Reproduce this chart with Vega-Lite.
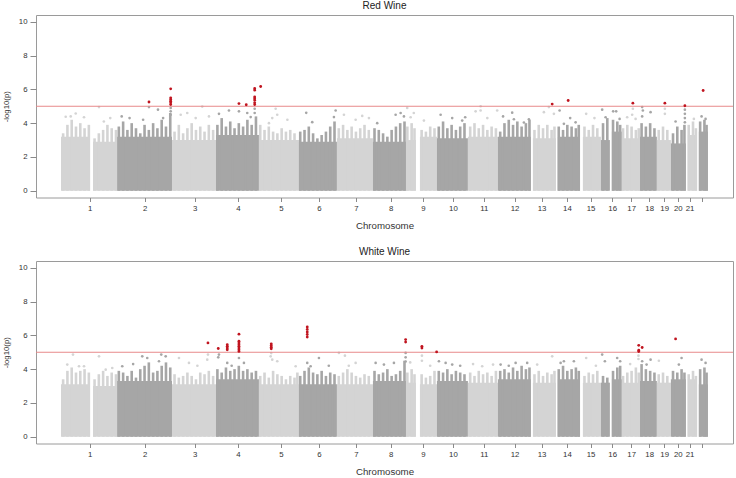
{
"$schema": "https://vega.github.io/schema/vega-lite/v6.json",
"padding": {"left": 1, "top": 0, "right": 1, "bottom": 0},
"config": {
 "font": "Liberation Sans",
 "view": {"stroke": "#9a9a9a", "strokeWidth": 1},
 "axis": {"grid": false, "domain": false, "tickColor": "#8a8a8a", "labelColor": "#333333", "titleColor": "#333333", "labelFontSize": 7.8, "titleFontWeight": "normal", "labelFlush": false, "labelOverlap": false, "tickCount": 40},
 "axisX": {"tickSize": 4, "labelPadding": 3, "titlePadding": 8, "titleFontSize": 9.7},
 "axisY": {"tickSize": 6, "labelPadding": 3, "titlePadding": 8, "titleFontSize": 7.8},
 "title": {"fontSize": 10, "fontWeight": "normal", "color": "#222222", "offset": 4},
 "concat": {"spacing": 15}
},
"datasets": {
 "blocks": [
  {"w":"Red","chr":1,"start":17.5,"end":37.8,"logp":3.2},
  {"w":"Red","chr":1,"start":39.9,"end":56.7,"logp":2.9},
  {"w":"Red","chr":2,"start":56.7,"end":95.2,"logp":3.2},
  {"w":"Red","chr":3,"start":95.2,"end":126.0,"logp":3.0},
  {"w":"Red","chr":4,"start":126.0,"end":156.1,"logp":3.3},
  {"w":"Red","chr":5,"start":156.1,"end":184.1,"logp":3.0},
  {"w":"Red","chr":6,"start":184.1,"end":210.7,"logp":2.9},
  {"w":"Red","chr":7,"start":210.7,"end":235.9,"logp":3.1},
  {"w":"Red","chr":8,"start":235.9,"end":259.0,"logp":2.9},
  {"w":"Red","chr":9,"start":259.0,"end":266.0,"logp":3.0},
  {"w":"Red","chr":9,"start":268.8,"end":280.7,"logp":3.2},
  {"w":"Red","chr":10,"start":280.7,"end":302.4,"logp":3.1},
  {"w":"Red","chr":11,"start":302.4,"end":323.4,"logp":3.2},
  {"w":"Red","chr":12,"start":323.4,"end":346.5,"logp":3.2},
  {"w":"Red","chr":13,"start":347.9,"end":364.0,"logp":3.1},
  {"w":"Red","chr":14,"start":365.4,"end":380.8,"logp":3.2},
  {"w":"Red","chr":15,"start":382.9,"end":395.5,"logp":3.2},
  {"w":"Red","chr":16,"start":395.5,"end":401.8,"logp":3.0},
  {"w":"Red","chr":16,"start":403.2,"end":410.2,"logp":3.5},
  {"w":"Red","chr":17,"start":410.2,"end":422.8,"logp":3.1},
  {"w":"Red","chr":18,"start":422.8,"end":434.7,"logp":3.2},
  {"w":"Red","chr":19,"start":434.7,"end":444.5,"logp":3.0},
  {"w":"Red","chr":20,"start":444.5,"end":455.0,"logp":2.8},
  {"w":"Red","chr":21,"start":456.4,"end":462.7,"logp":3.3},
  {"w":"Red","chr":22,"start":464.1,"end":470.4,"logp":3.5},
  {"w":"White","chr":1,"start":17.5,"end":37.8,"logp":3.1},
  {"w":"White","chr":1,"start":39.9,"end":56.7,"logp":3.0},
  {"w":"White","chr":2,"start":56.7,"end":95.2,"logp":3.3},
  {"w":"White","chr":3,"start":95.2,"end":126.0,"logp":3.1},
  {"w":"White","chr":4,"start":126.0,"end":156.1,"logp":3.4},
  {"w":"White","chr":5,"start":156.1,"end":184.1,"logp":3.1},
  {"w":"White","chr":6,"start":184.1,"end":210.7,"logp":3.1},
  {"w":"White","chr":7,"start":210.7,"end":235.9,"logp":3.1},
  {"w":"White","chr":8,"start":235.9,"end":259.0,"logp":3.3},
  {"w":"White","chr":9,"start":259.0,"end":266.0,"logp":3.2},
  {"w":"White","chr":9,"start":268.8,"end":280.7,"logp":3.1},
  {"w":"White","chr":10,"start":280.7,"end":302.4,"logp":3.3},
  {"w":"White","chr":11,"start":302.4,"end":323.4,"logp":3.2},
  {"w":"White","chr":12,"start":323.4,"end":346.5,"logp":3.4},
  {"w":"White","chr":13,"start":347.9,"end":364.0,"logp":3.2},
  {"w":"White","chr":14,"start":365.4,"end":380.8,"logp":3.4},
  {"w":"White","chr":15,"start":382.9,"end":395.5,"logp":3.2},
  {"w":"White","chr":16,"start":395.5,"end":401.8,"logp":3.2},
  {"w":"White","chr":16,"start":403.2,"end":410.2,"logp":3.4},
  {"w":"White","chr":17,"start":410.2,"end":422.8,"logp":3.2},
  {"w":"White","chr":18,"start":422.8,"end":434.7,"logp":3.3},
  {"w":"White","chr":19,"start":434.7,"end":444.5,"logp":3.2},
  {"w":"White","chr":20,"start":444.5,"end":455.0,"logp":3.4},
  {"w":"White","chr":21,"start":456.4,"end":462.7,"logp":3.4},
  {"w":"White","chr":22,"start":464.1,"end":470.4,"logp":3.1}
 ],
 "spikes": [
  {"w":"Red","chr":1,"pos":19,"logp":3.4},{"w":"Red","chr":1,"pos":22,"logp":3.9},{"w":"Red","chr":1,"pos":25,"logp":4.2},{"w":"Red","chr":1,"pos":28,"logp":3.8},{"w":"Red","chr":1,"pos":31,"logp":4.0},{"w":"Red","chr":1,"pos":34,"logp":3.7},{"w":"Red","chr":1,"pos":37,"logp":3.9},
  {"w":"Red","chr":1,"pos":41,"logp":3.1},{"w":"Red","chr":1,"pos":44,"logp":3.4},{"w":"Red","chr":1,"pos":47,"logp":3.6},{"w":"Red","chr":1,"pos":50,"logp":3.9},{"w":"Red","chr":1,"pos":53,"logp":3.7},{"w":"Red","chr":1,"pos":56,"logp":3.6},
  {"w":"Red","chr":2,"pos":58,"logp":3.8},{"w":"Red","chr":2,"pos":61,"logp":4.1},{"w":"Red","chr":2,"pos":64,"logp":3.6},{"w":"Red","chr":2,"pos":67,"logp":4.0},{"w":"Red","chr":2,"pos":70,"logp":3.7},{"w":"Red","chr":2,"pos":73,"logp":3.4},{"w":"Red","chr":2,"pos":76,"logp":3.9},{"w":"Red","chr":2,"pos":79,"logp":3.6},{"w":"Red","chr":2,"pos":82,"logp":4.0},{"w":"Red","chr":2,"pos":85,"logp":3.7},{"w":"Red","chr":2,"pos":88,"logp":4.2},{"w":"Red","chr":2,"pos":91,"logp":3.8},{"w":"Red","chr":2,"pos":94,"logp":4.6},
  {"w":"Red","chr":3,"pos":97,"logp":3.5},{"w":"Red","chr":3,"pos":100,"logp":3.9},{"w":"Red","chr":3,"pos":103,"logp":3.4},{"w":"Red","chr":3,"pos":106,"logp":3.7},{"w":"Red","chr":3,"pos":109,"logp":4.0},{"w":"Red","chr":3,"pos":112,"logp":3.6},{"w":"Red","chr":3,"pos":115,"logp":3.8},{"w":"Red","chr":3,"pos":118,"logp":3.5},{"w":"Red","chr":3,"pos":121,"logp":3.9},{"w":"Red","chr":3,"pos":124,"logp":3.6},
  {"w":"Red","chr":4,"pos":127,"logp":3.9},{"w":"Red","chr":4,"pos":130,"logp":4.3},{"w":"Red","chr":4,"pos":133,"logp":3.8},{"w":"Red","chr":4,"pos":136,"logp":4.1},{"w":"Red","chr":4,"pos":139,"logp":3.7},{"w":"Red","chr":4,"pos":142,"logp":4.0},{"w":"Red","chr":4,"pos":145,"logp":3.8},{"w":"Red","chr":4,"pos":148,"logp":4.2},{"w":"Red","chr":4,"pos":151,"logp":3.9},{"w":"Red","chr":4,"pos":154,"logp":4.4},
  {"w":"Red","chr":5,"pos":157,"logp":3.9},{"w":"Red","chr":5,"pos":160,"logp":3.6},{"w":"Red","chr":5,"pos":163,"logp":3.8},{"w":"Red","chr":5,"pos":166,"logp":3.5},{"w":"Red","chr":5,"pos":169,"logp":3.4},{"w":"Red","chr":5,"pos":172,"logp":3.7},{"w":"Red","chr":5,"pos":175,"logp":3.5},{"w":"Red","chr":5,"pos":178,"logp":3.6},{"w":"Red","chr":5,"pos":181,"logp":3.4},
  {"w":"Red","chr":6,"pos":185,"logp":3.5},{"w":"Red","chr":6,"pos":188,"logp":3.6},{"w":"Red","chr":6,"pos":191,"logp":3.8},{"w":"Red","chr":6,"pos":194,"logp":3.4},{"w":"Red","chr":6,"pos":197,"logp":3.1},{"w":"Red","chr":6,"pos":200,"logp":3.3},{"w":"Red","chr":6,"pos":203,"logp":3.5},{"w":"Red","chr":6,"pos":206,"logp":3.8},{"w":"Red","chr":6,"pos":209,"logp":4.1},
  {"w":"Red","chr":7,"pos":212,"logp":3.7},{"w":"Red","chr":7,"pos":215,"logp":3.9},{"w":"Red","chr":7,"pos":218,"logp":3.6},{"w":"Red","chr":7,"pos":221,"logp":3.8},{"w":"Red","chr":7,"pos":224,"logp":3.5},{"w":"Red","chr":7,"pos":227,"logp":3.7},{"w":"Red","chr":7,"pos":230,"logp":3.9},{"w":"Red","chr":7,"pos":233,"logp":3.6},
  {"w":"Red","chr":8,"pos":237,"logp":3.7},{"w":"Red","chr":8,"pos":240,"logp":3.6},{"w":"Red","chr":8,"pos":243,"logp":3.4},{"w":"Red","chr":8,"pos":246,"logp":3.2},{"w":"Red","chr":8,"pos":249,"logp":3.6},{"w":"Red","chr":8,"pos":252,"logp":3.8},{"w":"Red","chr":8,"pos":255,"logp":4.0},{"w":"Red","chr":8,"pos":258,"logp":4.1},
  {"w":"Red","chr":9,"pos":260,"logp":3.8},{"w":"Red","chr":9,"pos":263,"logp":4.0},{"w":"Red","chr":9,"pos":265,"logp":3.7},{"w":"Red","chr":9,"pos":270,"logp":3.6},{"w":"Red","chr":9,"pos":273,"logp":3.5},{"w":"Red","chr":9,"pos":276,"logp":3.8},{"w":"Red","chr":9,"pos":279,"logp":3.7},
  {"w":"Red","chr":10,"pos":282,"logp":3.8},{"w":"Red","chr":10,"pos":285,"logp":4.1},{"w":"Red","chr":10,"pos":288,"logp":3.7},{"w":"Red","chr":10,"pos":291,"logp":3.9},{"w":"Red","chr":10,"pos":294,"logp":3.6},{"w":"Red","chr":10,"pos":297,"logp":3.8},{"w":"Red","chr":10,"pos":300,"logp":4.0},
  {"w":"Red","chr":11,"pos":304,"logp":3.8},{"w":"Red","chr":11,"pos":307,"logp":4.0},{"w":"Red","chr":11,"pos":310,"logp":3.7},{"w":"Red","chr":11,"pos":313,"logp":3.9},{"w":"Red","chr":11,"pos":316,"logp":3.6},{"w":"Red","chr":11,"pos":319,"logp":3.8},{"w":"Red","chr":11,"pos":322,"logp":3.7},
  {"w":"Red","chr":12,"pos":325,"logp":3.5},{"w":"Red","chr":12,"pos":328,"logp":4.0},{"w":"Red","chr":12,"pos":331,"logp":4.2},{"w":"Red","chr":12,"pos":334,"logp":3.9},{"w":"Red","chr":12,"pos":337,"logp":4.1},{"w":"Red","chr":12,"pos":340,"logp":3.8},{"w":"Red","chr":12,"pos":343,"logp":4.0},{"w":"Red","chr":12,"pos":345.5,"logp":4.2},
  {"w":"Red","chr":13,"pos":349,"logp":3.6},{"w":"Red","chr":13,"pos":352,"logp":3.9},{"w":"Red","chr":13,"pos":355,"logp":3.7},{"w":"Red","chr":13,"pos":358,"logp":3.9},{"w":"Red","chr":13,"pos":361,"logp":3.6},{"w":"Red","chr":13,"pos":363,"logp":3.8},
  {"w":"Red","chr":14,"pos":366,"logp":3.8},{"w":"Red","chr":14,"pos":369,"logp":3.6},{"w":"Red","chr":14,"pos":372,"logp":3.9},{"w":"Red","chr":14,"pos":375,"logp":3.8},{"w":"Red","chr":14,"pos":378,"logp":3.7},{"w":"Red","chr":14,"pos":380,"logp":3.9},
  {"w":"Red","chr":15,"pos":384,"logp":3.8},{"w":"Red","chr":15,"pos":387,"logp":3.6},{"w":"Red","chr":15,"pos":390,"logp":3.9},{"w":"Red","chr":15,"pos":393,"logp":3.7},
  {"w":"Red","chr":16,"pos":397,"logp":4.0},{"w":"Red","chr":16,"pos":400,"logp":4.3},{"w":"Red","chr":16,"pos":404,"logp":4.2},{"w":"Red","chr":16,"pos":407,"logp":4.1},{"w":"Red","chr":16,"pos":409,"logp":3.9},
  {"w":"Red","chr":17,"pos":411,"logp":3.7},{"w":"Red","chr":17,"pos":414,"logp":3.9},{"w":"Red","chr":17,"pos":417,"logp":3.8},{"w":"Red","chr":17,"pos":420,"logp":3.6},{"w":"Red","chr":17,"pos":422,"logp":3.7},
  {"w":"Red","chr":18,"pos":424,"logp":4.0},{"w":"Red","chr":18,"pos":427,"logp":3.8},{"w":"Red","chr":18,"pos":430,"logp":4.0},{"w":"Red","chr":18,"pos":433,"logp":3.7},
  {"w":"Red","chr":19,"pos":436,"logp":3.6},{"w":"Red","chr":19,"pos":439,"logp":3.8},{"w":"Red","chr":19,"pos":442,"logp":3.6},
  {"w":"Red","chr":20,"pos":446,"logp":3.4},{"w":"Red","chr":20,"pos":449,"logp":3.8},{"w":"Red","chr":20,"pos":452,"logp":3.6},{"w":"Red","chr":20,"pos":454,"logp":3.9},
  {"w":"Red","chr":21,"pos":457,"logp":3.9},{"w":"Red","chr":21,"pos":460,"logp":4.1},{"w":"Red","chr":21,"pos":462,"logp":3.7},
  {"w":"Red","chr":22,"pos":465,"logp":4.1},{"w":"Red","chr":22,"pos":468,"logp":4.2},{"w":"Red","chr":22,"pos":469.5,"logp":3.9},
  {"w":"White","chr":1,"pos":19,"logp":3.4},{"w":"White","chr":1,"pos":22,"logp":3.9},{"w":"White","chr":1,"pos":25,"logp":4.1},{"w":"White","chr":1,"pos":28,"logp":3.8},{"w":"White","chr":1,"pos":31,"logp":3.9},{"w":"White","chr":1,"pos":34,"logp":4.0},{"w":"White","chr":1,"pos":37,"logp":3.8},
  {"w":"White","chr":1,"pos":41,"logp":3.4},{"w":"White","chr":1,"pos":44,"logp":3.7},{"w":"White","chr":1,"pos":47,"logp":3.9},{"w":"White","chr":1,"pos":50,"logp":3.6},{"w":"White","chr":1,"pos":53,"logp":3.8},{"w":"White","chr":1,"pos":56,"logp":3.7},
  {"w":"White","chr":2,"pos":58,"logp":3.9},{"w":"White","chr":2,"pos":61,"logp":3.8},{"w":"White","chr":2,"pos":64,"logp":3.6},{"w":"White","chr":2,"pos":67,"logp":3.9},{"w":"White","chr":2,"pos":70,"logp":3.5},{"w":"White","chr":2,"pos":73,"logp":4.0},{"w":"White","chr":2,"pos":76,"logp":4.2},{"w":"White","chr":2,"pos":79,"logp":4.4},{"w":"White","chr":2,"pos":82,"logp":3.8},{"w":"White","chr":2,"pos":85,"logp":3.9},{"w":"White","chr":2,"pos":88,"logp":4.2},{"w":"White","chr":2,"pos":91,"logp":4.4},{"w":"White","chr":2,"pos":94,"logp":4.1},
  {"w":"White","chr":3,"pos":97,"logp":3.7},{"w":"White","chr":3,"pos":100,"logp":3.5},{"w":"White","chr":3,"pos":103,"logp":3.6},{"w":"White","chr":3,"pos":106,"logp":3.8},{"w":"White","chr":3,"pos":109,"logp":3.6},{"w":"White","chr":3,"pos":112,"logp":3.4},{"w":"White","chr":3,"pos":115,"logp":3.8},{"w":"White","chr":3,"pos":118,"logp":3.7},{"w":"White","chr":3,"pos":121,"logp":3.9},{"w":"White","chr":3,"pos":124,"logp":3.6},
  {"w":"White","chr":4,"pos":127,"logp":4.0},{"w":"White","chr":4,"pos":130,"logp":3.8},{"w":"White","chr":4,"pos":133,"logp":4.1},{"w":"White","chr":4,"pos":136,"logp":3.9},{"w":"White","chr":4,"pos":139,"logp":4.0},{"w":"White","chr":4,"pos":142,"logp":4.2},{"w":"White","chr":4,"pos":145,"logp":3.9},{"w":"White","chr":4,"pos":148,"logp":4.0},{"w":"White","chr":4,"pos":151,"logp":3.8},{"w":"White","chr":4,"pos":154,"logp":3.9},
  {"w":"White","chr":5,"pos":157,"logp":3.6},{"w":"White","chr":5,"pos":160,"logp":3.8},{"w":"White","chr":5,"pos":163,"logp":3.5},{"w":"White","chr":5,"pos":166,"logp":3.9},{"w":"White","chr":5,"pos":169,"logp":3.7},{"w":"White","chr":5,"pos":172,"logp":3.6},{"w":"White","chr":5,"pos":175,"logp":3.4},{"w":"White","chr":5,"pos":178,"logp":3.6},{"w":"White","chr":5,"pos":181,"logp":3.5},{"w":"White","chr":5,"pos":183,"logp":3.8},
  {"w":"White","chr":6,"pos":185,"logp":3.6},{"w":"White","chr":6,"pos":188,"logp":3.9},{"w":"White","chr":6,"pos":191,"logp":4.1},{"w":"White","chr":6,"pos":194,"logp":3.8},{"w":"White","chr":6,"pos":197,"logp":3.7},{"w":"White","chr":6,"pos":200,"logp":3.9},{"w":"White","chr":6,"pos":203,"logp":3.6},{"w":"White","chr":6,"pos":206,"logp":3.8},{"w":"White","chr":6,"pos":209,"logp":3.7},
  {"w":"White","chr":7,"pos":212,"logp":3.6},{"w":"White","chr":7,"pos":215,"logp":3.8},{"w":"White","chr":7,"pos":218,"logp":4.0},{"w":"White","chr":7,"pos":221,"logp":3.8},{"w":"White","chr":7,"pos":224,"logp":3.6},{"w":"White","chr":7,"pos":227,"logp":3.5},{"w":"White","chr":7,"pos":230,"logp":3.7},{"w":"White","chr":7,"pos":233,"logp":3.6},
  {"w":"White","chr":8,"pos":237,"logp":3.9},{"w":"White","chr":8,"pos":240,"logp":3.7},{"w":"White","chr":8,"pos":243,"logp":3.8},{"w":"White","chr":8,"pos":246,"logp":4.0},{"w":"White","chr":8,"pos":249,"logp":3.6},{"w":"White","chr":8,"pos":252,"logp":3.7},{"w":"White","chr":8,"pos":255,"logp":3.9},{"w":"White","chr":8,"pos":258,"logp":4.5},
  {"w":"White","chr":9,"pos":260,"logp":3.8},{"w":"White","chr":9,"pos":263,"logp":4.0},{"w":"White","chr":9,"pos":265,"logp":3.7},{"w":"White","chr":9,"pos":270,"logp":3.7},{"w":"White","chr":9,"pos":273,"logp":3.5},{"w":"White","chr":9,"pos":276,"logp":3.6},{"w":"White","chr":9,"pos":279,"logp":3.9},
  {"w":"White","chr":10,"pos":282,"logp":3.9},{"w":"White","chr":10,"pos":285,"logp":3.8},{"w":"White","chr":10,"pos":288,"logp":4.0},{"w":"White","chr":10,"pos":291,"logp":3.7},{"w":"White","chr":10,"pos":294,"logp":3.9},{"w":"White","chr":10,"pos":297,"logp":3.8},{"w":"White","chr":10,"pos":300,"logp":3.7},
  {"w":"White","chr":11,"pos":304,"logp":3.8},{"w":"White","chr":11,"pos":307,"logp":3.6},{"w":"White","chr":11,"pos":310,"logp":3.9},{"w":"White","chr":11,"pos":313,"logp":3.7},{"w":"White","chr":11,"pos":316,"logp":3.8},{"w":"White","chr":11,"pos":319,"logp":3.6},{"w":"White","chr":11,"pos":322,"logp":3.9},
  {"w":"White","chr":12,"pos":325,"logp":3.9},{"w":"White","chr":12,"pos":328,"logp":4.0},{"w":"White","chr":12,"pos":331,"logp":3.8},{"w":"White","chr":12,"pos":334,"logp":4.1},{"w":"White","chr":12,"pos":337,"logp":3.9},{"w":"White","chr":12,"pos":340,"logp":4.2},{"w":"White","chr":12,"pos":343,"logp":4.0},{"w":"White","chr":12,"pos":345.5,"logp":4.1},
  {"w":"White","chr":13,"pos":349,"logp":3.7},{"w":"White","chr":13,"pos":352,"logp":3.9},{"w":"White","chr":13,"pos":355,"logp":3.6},{"w":"White","chr":13,"pos":358,"logp":3.8},{"w":"White","chr":13,"pos":361,"logp":3.7},{"w":"White","chr":13,"pos":363,"logp":3.9},
  {"w":"White","chr":14,"pos":366,"logp":4.0},{"w":"White","chr":14,"pos":369,"logp":4.2},{"w":"White","chr":14,"pos":372,"logp":3.9},{"w":"White","chr":14,"pos":375,"logp":4.0},{"w":"White","chr":14,"pos":378,"logp":4.1},{"w":"White","chr":14,"pos":380,"logp":3.9},
  {"w":"White","chr":15,"pos":384,"logp":3.6},{"w":"White","chr":15,"pos":387,"logp":3.8},{"w":"White","chr":15,"pos":390,"logp":3.7},{"w":"White","chr":15,"pos":393,"logp":3.9},
  {"w":"White","chr":16,"pos":397,"logp":3.6},{"w":"White","chr":16,"pos":400,"logp":3.5},{"w":"White","chr":16,"pos":404,"logp":3.9},{"w":"White","chr":16,"pos":407,"logp":4.1},{"w":"White","chr":16,"pos":409,"logp":4.2},
  {"w":"White","chr":17,"pos":411,"logp":3.6},{"w":"White","chr":17,"pos":414,"logp":3.8},{"w":"White","chr":17,"pos":417,"logp":3.9},{"w":"White","chr":17,"pos":420,"logp":4.1},{"w":"White","chr":17,"pos":422,"logp":3.8},
  {"w":"White","chr":18,"pos":424,"logp":4.3},{"w":"White","chr":18,"pos":427,"logp":4.0},{"w":"White","chr":18,"pos":430,"logp":3.9},{"w":"White","chr":18,"pos":433,"logp":3.8},
  {"w":"White","chr":19,"pos":436,"logp":3.7},{"w":"White","chr":19,"pos":439,"logp":3.8},{"w":"White","chr":19,"pos":442,"logp":3.6},
  {"w":"White","chr":20,"pos":446,"logp":3.9},{"w":"White","chr":20,"pos":449,"logp":3.8},{"w":"White","chr":20,"pos":452,"logp":4.0},{"w":"White","chr":20,"pos":454,"logp":3.8},
  {"w":"White","chr":21,"pos":457,"logp":3.7},{"w":"White","chr":21,"pos":460,"logp":3.9},{"w":"White","chr":21,"pos":462,"logp":3.6},
  {"w":"White","chr":22,"pos":465,"logp":4.0},{"w":"White","chr":22,"pos":468,"logp":4.1},{"w":"White","chr":22,"pos":469.5,"logp":3.8}
 ],
 "dots": [
  {"w":"Red","chr":1,"pos":24.3,"logp":4.4},{"w":"Red","chr":1,"pos":27.8,"logp":4.57},{"w":"Red","chr":1,"pos":33.6,"logp":4.35},{"w":"Red","chr":1,"pos":20.8,"logp":4.38},
  {"w":"Red","chr":1,"pos":44.1,"logp":4.95},{"w":"Red","chr":1,"pos":47.5,"logp":4.1},{"w":"Red","chr":1,"pos":52,"logp":4.3},
  {"w":"Red","chr":2,"pos":60,"logp":4.4},{"w":"Red","chr":2,"pos":65.5,"logp":4.3},{"w":"Red","chr":2,"pos":75,"logp":4.2},{"w":"Red","chr":2,"pos":79.1,"logp":4.95},{"w":"Red","chr":2,"pos":85.4,"logp":4.8},{"w":"Red","chr":2,"pos":89,"logp":4.3},{"w":"Red","chr":2,"pos":94.3,"logp":4.9},{"w":"Red","chr":2,"pos":94.3,"logp":4.7},{"w":"Red","chr":2,"pos":94.3,"logp":4.5},
  {"w":"Red","chr":3,"pos":101.3,"logp":4.5},{"w":"Red","chr":3,"pos":105.9,"logp":4.6},{"w":"Red","chr":3,"pos":116.4,"logp":4.98},{"w":"Red","chr":3,"pos":111.8,"logp":4.3},{"w":"Red","chr":3,"pos":121.1,"logp":4.4},
  {"w":"Red","chr":4,"pos":128.1,"logp":4.55},{"w":"Red","chr":4,"pos":135.1,"logp":4.75},{"w":"Red","chr":4,"pos":142.1,"logp":4.7},{"w":"Red","chr":4,"pos":147.9,"logp":4.6},{"w":"Red","chr":4,"pos":150.3,"logp":4.36},{"w":"Red","chr":4,"pos":153.1,"logp":4.85},{"w":"Red","chr":4,"pos":153.1,"logp":4.6},
  {"w":"Red","chr":5,"pos":167.8,"logp":4.85},{"w":"Red","chr":5,"pos":168.9,"logp":4.5},{"w":"Red","chr":5,"pos":165.4,"logp":4.3},{"w":"Red","chr":5,"pos":163.1,"logp":4.0},{"w":"Red","chr":5,"pos":176,"logp":4.2},
  {"w":"Red","chr":6,"pos":189.2,"logp":4.61},{"w":"Red","chr":6,"pos":193.4,"logp":4.06},{"w":"Red","chr":6,"pos":209.8,"logp":4.75},{"w":"Red","chr":6,"pos":208.6,"logp":4.36},
  {"w":"Red","chr":7,"pos":215.6,"logp":4.5},{"w":"Red","chr":7,"pos":228.4,"logp":4.43},{"w":"Red","chr":7,"pos":233.1,"logp":4.3},{"w":"Red","chr":7,"pos":223.8,"logp":4.2},
  {"w":"Red","chr":8,"pos":251.8,"logp":4.5},{"w":"Red","chr":8,"pos":255.3,"logp":4.6},{"w":"Red","chr":8,"pos":257.6,"logp":4.4},{"w":"Red","chr":8,"pos":238.9,"logp":4.0},
  {"w":"Red","chr":9,"pos":259.9,"logp":4.9},{"w":"Red","chr":9,"pos":262.3,"logp":4.35},{"w":"Red","chr":9,"pos":271.6,"logp":4.15},{"w":"Red","chr":9,"pos":264.5,"logp":4.6},
  {"w":"Red","chr":10,"pos":283.3,"logp":4.5},{"w":"Red","chr":10,"pos":291.4,"logp":4.3},{"w":"Red","chr":10,"pos":298.4,"logp":4.15},{"w":"Red","chr":10,"pos":300.5,"logp":4.35},
  {"w":"Red","chr":11,"pos":307.8,"logp":4.7},{"w":"Red","chr":11,"pos":311.3,"logp":5.0},{"w":"Red","chr":11,"pos":311.3,"logp":4.75},{"w":"Red","chr":11,"pos":322.9,"logp":4.75},{"w":"Red","chr":11,"pos":316,"logp":4.3},
  {"w":"Red","chr":12,"pos":333.4,"logp":4.62},{"w":"Red","chr":12,"pos":334.6,"logp":4.23},{"w":"Red","chr":12,"pos":341.6,"logp":4.04},{"w":"Red","chr":12,"pos":345.1,"logp":4.23},{"w":"Red","chr":12,"pos":327,"logp":4.4},
  {"w":"Red","chr":13,"pos":355.6,"logp":4.65},{"w":"Red","chr":13,"pos":359.1,"logp":4.95},{"w":"Red","chr":13,"pos":362.6,"logp":4.55},
  {"w":"Red","chr":14,"pos":366.6,"logp":4.75},{"w":"Red","chr":14,"pos":369.6,"logp":3.96},{"w":"Red","chr":14,"pos":377.8,"logp":4.05},{"w":"Red","chr":14,"pos":374,"logp":4.3},
  {"w":"Red","chr":15,"pos":385.2,"logp":4.55},{"w":"Red","chr":15,"pos":391,"logp":4.3},
  {"w":"Red","chr":16,"pos":396.4,"logp":4.8},{"w":"Red","chr":16,"pos":398.8,"logp":4.35},{"w":"Red","chr":16,"pos":404.1,"logp":4.7},{"w":"Red","chr":16,"pos":406.2,"logp":4.7},{"w":"Red","chr":16,"pos":408.6,"logp":4.25},
  {"w":"Red","chr":17,"pos":413.9,"logp":4.35},{"w":"Red","chr":17,"pos":417.4,"logp":4.5},{"w":"Red","chr":17,"pos":419.8,"logp":4.25},{"w":"Red","chr":17,"pos":417.9,"logp":4.85},
  {"w":"Red","chr":18,"pos":424.4,"logp":4.95},{"w":"Red","chr":18,"pos":424.9,"logp":4.75},{"w":"Red","chr":18,"pos":430.3,"logp":4.65},{"w":"Red","chr":18,"pos":424.4,"logp":4.4},
  {"w":"Red","chr":19,"pos":440.3,"logp":4.85},{"w":"Red","chr":19,"pos":440.3,"logp":4.55},
  {"w":"Red","chr":20,"pos":454.3,"logp":4.8},{"w":"Red","chr":20,"pos":454.3,"logp":4.55},{"w":"Red","chr":20,"pos":454.3,"logp":4.3},{"w":"Red","chr":20,"pos":454.3,"logp":4.05},{"w":"Red","chr":20,"pos":447.8,"logp":4.1},
  {"w":"Red","chr":21,"pos":460.6,"logp":4.25},
  {"w":"Red","chr":22,"pos":468.8,"logp":4.25},{"w":"Red","chr":22,"pos":466,"logp":4.4},
  {"w":"White","chr":1,"pos":25.9,"logp":4.86},{"w":"White","chr":1,"pos":21.9,"logp":4.27},{"w":"White","chr":1,"pos":30.1,"logp":4.17},{"w":"White","chr":1,"pos":33.6,"logp":4.17},{"w":"White","chr":1,"pos":44.1,"logp":4.76},{"w":"White","chr":1,"pos":48.8,"logp":3.97},{"w":"White","chr":1,"pos":53.4,"logp":4.07},
  {"w":"White","chr":2,"pos":74.4,"logp":4.76},{"w":"White","chr":2,"pos":77.9,"logp":4.66},{"w":"White","chr":2,"pos":87.7,"logp":4.86},{"w":"White","chr":2,"pos":90.8,"logp":4.76},{"w":"White","chr":2,"pos":86.1,"logp":4.47},{"w":"White","chr":2,"pos":60.4,"logp":4.17},{"w":"White","chr":2,"pos":68,"logp":4.3},
  {"w":"White","chr":3,"pos":100.1,"logp":4.66},{"w":"White","chr":3,"pos":107.1,"logp":4.37},{"w":"White","chr":3,"pos":119.9,"logp":4.56},{"w":"White","chr":3,"pos":120.4,"logp":4.86},{"w":"White","chr":3,"pos":113,"logp":4.2},
  {"w":"White","chr":4,"pos":128.1,"logp":4.86},{"w":"White","chr":4,"pos":133.9,"logp":4.37},{"w":"White","chr":4,"pos":142.1,"logp":4.66},{"w":"White","chr":4,"pos":145.6,"logp":4.37},{"w":"White","chr":4,"pos":137,"logp":4.2},{"w":"White","chr":4,"pos":127.6,"logp":4.7},
  {"w":"White","chr":5,"pos":164.3,"logp":4.76},{"w":"White","chr":5,"pos":165.4,"logp":4.56},{"w":"White","chr":5,"pos":168.9,"logp":4.47},{"w":"White","chr":5,"pos":181.8,"logp":4.17},{"w":"White","chr":5,"pos":164.7,"logp":4.95},
  {"w":"White","chr":6,"pos":189.9,"logp":4.37},{"w":"White","chr":6,"pos":198.1,"logp":4.66},{"w":"White","chr":6,"pos":192.3,"logp":4.17},{"w":"White","chr":6,"pos":205,"logp":4.2},
  {"w":"White","chr":7,"pos":212.1,"logp":4.96},{"w":"White","chr":7,"pos":216.3,"logp":4.8},{"w":"White","chr":7,"pos":223.8,"logp":4.37},{"w":"White","chr":7,"pos":219,"logp":4.2},
  {"w":"White","chr":8,"pos":237.8,"logp":4.37},{"w":"White","chr":8,"pos":243.6,"logp":4.27},{"w":"White","chr":8,"pos":250.6,"logp":4.37},{"w":"White","chr":8,"pos":258.8,"logp":4.96},{"w":"White","chr":8,"pos":258.8,"logp":4.7},{"w":"White","chr":8,"pos":258.8,"logp":4.45},
  {"w":"White","chr":9,"pos":270.2,"logp":4.8},{"w":"White","chr":9,"pos":270.2,"logp":4.5},{"w":"White","chr":9,"pos":262,"logp":4.4},{"w":"White","chr":9,"pos":276,"logp":4.2},
  {"w":"White","chr":10,"pos":282.1,"logp":4.47},{"w":"White","chr":10,"pos":286.8,"logp":4.37},{"w":"White","chr":10,"pos":291.4,"logp":4.27},{"w":"White","chr":10,"pos":297,"logp":4.2},
  {"w":"White","chr":11,"pos":312.4,"logp":4.17},{"w":"White","chr":11,"pos":320,"logp":4.27},{"w":"White","chr":11,"pos":306,"logp":4.3},
  {"w":"White","chr":12,"pos":325.3,"logp":4.27},{"w":"White","chr":12,"pos":335.8,"logp":4.37},{"w":"White","chr":12,"pos":343.9,"logp":4.37},{"w":"White","chr":12,"pos":331,"logp":4.2},
  {"w":"White","chr":13,"pos":350.9,"logp":4.27},{"w":"White","chr":13,"pos":361.4,"logp":4.76},
  {"w":"White","chr":14,"pos":367.3,"logp":4.37},{"w":"White","chr":14,"pos":369.6,"logp":4.47},{"w":"White","chr":14,"pos":376.6,"logp":4.47},
  {"w":"White","chr":15,"pos":385.2,"logp":4.66},{"w":"White","chr":15,"pos":392,"logp":4.2},
  {"w":"White","chr":16,"pos":396.4,"logp":4.86},{"w":"White","chr":16,"pos":398.3,"logp":4.47},{"w":"White","chr":16,"pos":406.9,"logp":4.66},{"w":"White","chr":16,"pos":409,"logp":4.47},
  {"w":"White","chr":17,"pos":421.8,"logp":4.8},{"w":"White","chr":17,"pos":421.8,"logp":4.6},{"w":"White","chr":17,"pos":416,"logp":4.3},
  {"w":"White","chr":18,"pos":424.4,"logp":4.47},{"w":"White","chr":18,"pos":430.3,"logp":4.56},{"w":"White","chr":18,"pos":427.5,"logp":4.27},
  {"w":"White","chr":19,"pos":436.1,"logp":4.5},
  {"w":"White","chr":20,"pos":450.1,"logp":4.27},{"w":"White","chr":20,"pos":452,"logp":4.66},
  {"w":"White","chr":22,"pos":466,"logp":4.56},{"w":"White","chr":22,"pos":468.8,"logp":4.37}
 ],
 "hits": [
  {"w":"Red","chr":2,"pos":79.1,"logp":5.25},
  {"w":"Red","chr":2,"pos":94.3,"logp":6.03},{"w":"Red","chr":2,"pos":94.3,"logp":5.5},{"w":"Red","chr":2,"pos":94.3,"logp":5.4},{"w":"Red","chr":2,"pos":94.3,"logp":5.3},{"w":"Red","chr":2,"pos":94.3,"logp":5.2},{"w":"Red","chr":2,"pos":94.3,"logp":5.1},
  {"w":"Red","chr":4,"pos":142.1,"logp":5.16},{"w":"Red","chr":4,"pos":147.2,"logp":5.09},
  {"w":"Red","chr":4,"pos":153.1,"logp":6.05},{"w":"Red","chr":4,"pos":153.1,"logp":5.95},{"w":"Red","chr":4,"pos":153.1,"logp":5.55},{"w":"Red","chr":4,"pos":153.1,"logp":5.45},{"w":"Red","chr":4,"pos":153.1,"logp":5.35},{"w":"Red","chr":4,"pos":153.1,"logp":5.2},{"w":"Red","chr":4,"pos":153.1,"logp":5.1},
  {"w":"Red","chr":5,"pos":157.3,"logp":6.17},
  {"w":"Red","chr":13,"pos":361.4,"logp":5.13},
  {"w":"Red","chr":14,"pos":372.6,"logp":5.34},
  {"w":"Red","chr":17,"pos":417.9,"logp":5.18},
  {"w":"Red","chr":19,"pos":440.3,"logp":5.18},
  {"w":"Red","chr":20,"pos":454.3,"logp":5.03},
  {"w":"Red","chr":22,"pos":467.1,"logp":5.93},
  {"w":"White","chr":3,"pos":120.4,"logp":5.55},
  {"w":"White","chr":4,"pos":127.6,"logp":5.22},
  {"w":"White","chr":4,"pos":133.9,"logp":5.45},{"w":"White","chr":4,"pos":133.9,"logp":5.35},{"w":"White","chr":4,"pos":133.9,"logp":5.25},{"w":"White","chr":4,"pos":133.9,"logp":5.15},
  {"w":"White","chr":4,"pos":142.1,"logp":6.07},{"w":"White","chr":4,"pos":142.1,"logp":5.65},{"w":"White","chr":4,"pos":142.1,"logp":5.55},{"w":"White","chr":4,"pos":142.1,"logp":5.45},{"w":"White","chr":4,"pos":142.1,"logp":5.35},{"w":"White","chr":4,"pos":142.1,"logp":5.25},{"w":"White","chr":4,"pos":142.1,"logp":5.15},{"w":"White","chr":4,"pos":142.1,"logp":5.05},
  {"w":"White","chr":5,"pos":164.7,"logp":5.5},{"w":"White","chr":5,"pos":164.7,"logp":5.4},{"w":"White","chr":5,"pos":164.7,"logp":5.3},{"w":"White","chr":5,"pos":164.7,"logp":5.2},
  {"w":"White","chr":6,"pos":189.9,"logp":6.5},{"w":"White","chr":6,"pos":189.9,"logp":6.35},{"w":"White","chr":6,"pos":189.9,"logp":6.2},{"w":"White","chr":6,"pos":189.9,"logp":6.05},{"w":"White","chr":6,"pos":189.9,"logp":5.9},
  {"w":"White","chr":8,"pos":258.8,"logp":5.75},{"w":"White","chr":8,"pos":258.8,"logp":5.6},
  {"w":"White","chr":9,"pos":270.2,"logp":5.35},{"w":"White","chr":9,"pos":270.2,"logp":5.25},
  {"w":"White","chr":9,"pos":280.5,"logp":5.02},
  {"w":"White","chr":17,"pos":422.0,"logp":5.41},{"w":"White","chr":17,"pos":422.0,"logp":5.12},{"w":"White","chr":17,"pos":422.0,"logp":5.04},
  {"w":"White","chr":18,"pos":424.4,"logp":5.28},
  {"w":"White","chr":20,"pos":447.8,"logp":5.79}
 ],
 "threshold": [{"logp": 5}]
},
"vconcat": [
 {
  "title": "Red Wine",
  "width": 697, "height": 182.5,
  "layer": [
   {"data": {"name": "blocks"}, "transform": [{"filter": "datum.w === 'Red'"}],
    "mark": {"type": "rect"},
    "encoding": {
     "x": {"field": "start", "type": "quantitative", "scale": {"domain": [0, 488], "nice": false, "zero": false},
      "axis": {"title": "Chromosome", "labelOverlap": false, "tickCount": 40, "values": [37.6,76.1,111.1,141.4,171.5,198.1,224,248.3,270.9,291.9,313.6,335.1,354,371.7,388.3,403.4,416.7,429.3,439.8,449.4,457.6,466],
       "labelExpr": "datum.value > 460 ? '' : '' + (indexof([37.6,76.1,111.1,141.4,171.5,198.1,224,248.3,270.9,291.9,313.6,335.1,354,371.7,388.3,403.4,416.7,429.3,439.8,449.4,457.6], datum.value) + 1)"}},
     "x2": {"field": "end"},
     "y": {"field": "logp", "type": "quantitative", "scale": {"domain": [-0.4, 10.4], "nice": false, "zero": false},
      "axis": {"title": "-log10(p)", "labelOverlap": false, "tickCount": 20, "format": "d", "values": [0, 2, 4, 6, 8, 10]}},
     "y2": {"datum": 0},
     "color": {"field": "chr", "type": "ordinal", "legend": null,
      "scale": {"domain": [1,2,3,4,5,6,7,8,9,10,11,12,13,14,15,16,17,18,19,20,21,22],
       "range": ["#d4d4d4","#a6a6a6","#d4d4d4","#a6a6a6","#d4d4d4","#a6a6a6","#d4d4d4","#a6a6a6","#d4d4d4","#a6a6a6","#d4d4d4","#a6a6a6","#d4d4d4","#a6a6a6","#d4d4d4","#a6a6a6","#d4d4d4","#a6a6a6","#d4d4d4","#a6a6a6","#d4d4d4","#a6a6a6"]}}
    }},
   {"data": {"name": "spikes"}, "transform": [{"filter": "datum.w === 'Red'"}],
    "mark": {"type": "rule", "strokeWidth": 2.6},
    "encoding": {"x": {"field": "pos", "type": "quantitative"}, "y": {"field": "logp", "type": "quantitative"}, "y2": {"datum": 0}, "color": {"field": "chr", "type": "ordinal"}}},
   {"data": {"name": "dots"}, "transform": [{"filter": "datum.w === 'Red'"}],
    "mark": {"type": "circle", "size": 7, "opacity": 1},
    "encoding": {"x": {"field": "pos", "type": "quantitative"}, "y": {"field": "logp", "type": "quantitative"}, "color": {"field": "chr", "type": "ordinal"}}},
   {"data": {"name": "threshold"},
    "mark": {"type": "rule", "color": "#e8898b", "strokeWidth": 1},
    "encoding": {"y": {"field": "logp", "type": "quantitative"}}},
   {"data": {"name": "hits"}, "transform": [{"filter": "datum.w === 'Red'"}],
    "mark": {"type": "circle", "size": 8, "opacity": 1, "color": "#c0141f"},
    "encoding": {"x": {"field": "pos", "type": "quantitative"}, "y": {"field": "logp", "type": "quantitative"}}}
  ]
 },
 {
  "title": "White Wine",
  "width": 697, "height": 182.5,
  "layer": [
   {"data": {"name": "blocks"}, "transform": [{"filter": "datum.w === 'White'"}],
    "mark": {"type": "rect"},
    "encoding": {
     "x": {"field": "start", "type": "quantitative", "scale": {"domain": [0, 488], "nice": false, "zero": false},
      "axis": {"title": "Chromosome", "labelOverlap": false, "tickCount": 40, "values": [37.6,76.1,111.1,141.4,171.5,198.1,224,248.3,270.9,291.9,313.6,335.1,354,371.7,388.3,403.4,416.7,429.3,439.8,449.4,457.6,466],
       "labelExpr": "datum.value > 460 ? '' : '' + (indexof([37.6,76.1,111.1,141.4,171.5,198.1,224,248.3,270.9,291.9,313.6,335.1,354,371.7,388.3,403.4,416.7,429.3,439.8,449.4,457.6], datum.value) + 1)"}},
     "x2": {"field": "end"},
     "y": {"field": "logp", "type": "quantitative", "scale": {"domain": [-0.4, 10.4], "nice": false, "zero": false},
      "axis": {"title": "-log10(p)", "labelOverlap": false, "tickCount": 20, "format": "d", "values": [0, 2, 4, 6, 8, 10]}},
     "y2": {"datum": 0},
     "color": {"field": "chr", "type": "ordinal", "legend": null,
      "scale": {"domain": [1,2,3,4,5,6,7,8,9,10,11,12,13,14,15,16,17,18,19,20,21,22],
       "range": ["#d4d4d4","#a6a6a6","#d4d4d4","#a6a6a6","#d4d4d4","#a6a6a6","#d4d4d4","#a6a6a6","#d4d4d4","#a6a6a6","#d4d4d4","#a6a6a6","#d4d4d4","#a6a6a6","#d4d4d4","#a6a6a6","#d4d4d4","#a6a6a6","#d4d4d4","#a6a6a6","#d4d4d4","#a6a6a6"]}}
    }},
   {"data": {"name": "spikes"}, "transform": [{"filter": "datum.w === 'White'"}],
    "mark": {"type": "rule", "strokeWidth": 2.6},
    "encoding": {"x": {"field": "pos", "type": "quantitative"}, "y": {"field": "logp", "type": "quantitative"}, "y2": {"datum": 0}, "color": {"field": "chr", "type": "ordinal"}}},
   {"data": {"name": "dots"}, "transform": [{"filter": "datum.w === 'White'"}],
    "mark": {"type": "circle", "size": 7, "opacity": 1},
    "encoding": {"x": {"field": "pos", "type": "quantitative"}, "y": {"field": "logp", "type": "quantitative"}, "color": {"field": "chr", "type": "ordinal"}}},
   {"data": {"name": "threshold"},
    "mark": {"type": "rule", "color": "#e8898b", "strokeWidth": 1},
    "encoding": {"y": {"field": "logp", "type": "quantitative"}}},
   {"data": {"name": "hits"}, "transform": [{"filter": "datum.w === 'White'"}],
    "mark": {"type": "circle", "size": 8, "opacity": 1, "color": "#c0141f"},
    "encoding": {"x": {"field": "pos", "type": "quantitative"}, "y": {"field": "logp", "type": "quantitative"}}}
  ]
 }
]
}
